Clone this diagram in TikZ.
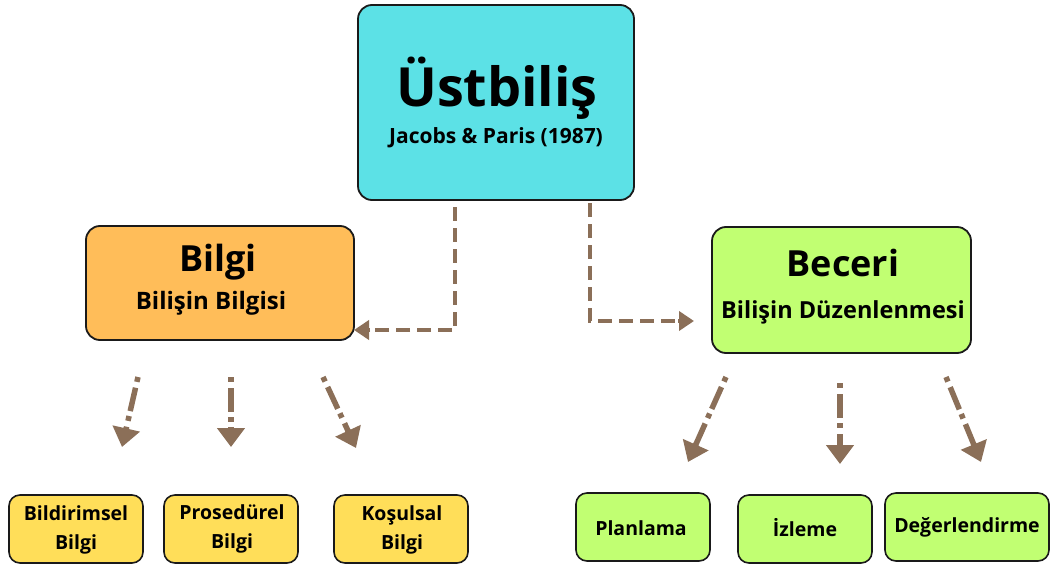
\documentclass[tikz,border=0pt]{standalone}
\usepackage{fontspec}
\setmainfont{Open Sans}
\usetikzlibrary{arrows.meta,calc}
\definecolor{cyanbox}{HTML}{5CE1E6}
\definecolor{orangebox}{HTML}{FFBD59}
\definecolor{greenbox}{HTML}{C1FF72}
\definecolor{yellowbox}{HTML}{FFDE59}
\definecolor{arrowbrown}{HTML}{8B6F58}
\definecolor{boxline}{HTML}{1A1A1A}
\begin{document}
\begin{tikzpicture}[x=1pt,y=-1pt,
  box/.style={draw=boxline,line width=1.8pt,rounded corners=14pt},
  smallbox/.style={draw=boxline,line width=1.6pt,rounded corners=11pt},
  conn/.style={draw=arrowbrown,line width=4pt,dash pattern=on 14pt off 7pt,shorten >=10pt},
  conntip/.style={draw=arrowbrown,fill=arrowbrown,line width=4pt,-{Triangle[width=19pt,length=15pt]}},
  subconn/.style={draw=arrowbrown,line width=5.5pt,dash pattern=on 5pt off 6pt on 24pt off 5pt,shorten >=16pt},
  subtip/.style={draw=arrowbrown,fill=arrowbrown,line width=5.5pt,-{Triangle[width=27pt,length=19pt]}},
  lbl/.style={align=center,inner sep=0pt},
  smalltxt/.style={lbl,font=\bfseries\fontsize{19.5}{29}\selectfont}]
\useasboundingbox (0,0) rectangle (1050,567);
% main boxes
\draw[box,fill=cyanbox] (358,5) rectangle (634,200);
\node[lbl,font=\bfseries\fontsize{54}{60}\selectfont] (ust) at (497,88) {Üstbiliş};
\node[lbl,font=\bfseries\fontsize{21}{24}\selectfont] (ustsub) at (496,138) {Jacobs \& Paris (1987)};
\draw[box,fill=orangebox] (86,226) rectangle (354,340);
\node[lbl,font=\bfseries\fontsize{36}{40}\selectfont] (bilgi) at (218,262) {Bilgi};
\node[lbl,font=\bfseries\fontsize{24}{28}\selectfont] (bilgisub) at (211,303) {Bilişin Bilgisi};
\draw[box,fill=greenbox] (712,227) rectangle (971,353);
\node[lbl,font=\bfseries\fontsize{36}{40}\selectfont] (beceri) at (843,263) {Beceri};
\node[lbl,font=\bfseries\fontsize{23.5}{28}\selectfont] (becerisub) at (843,312) {Bilişin Düzenlenmesi};
% small boxes
\draw[smallbox,fill=yellowbox] (9,495) rectangle (143,563);
\node[smalltxt] (bild) at (76,530) {Bildirimsel\\Bilgi};
\draw[smallbox,fill=yellowbox] (164,495) rectangle (298,563);
\node[smalltxt] (pros) at (232,529) {Prosedürel\\Bilgi};
\draw[smallbox,fill=yellowbox] (334,495) rectangle (468,563);
\node[smalltxt] (kos) at (402,530) {Koşulsal\\Bilgi};
\draw[smallbox,fill=greenbox] (576,493) rectangle (710,561);
\node[smalltxt] (plan) at (641,528) {Planlama};
\draw[smallbox,fill=greenbox] (738,495) rectangle (872,563);
\node[smalltxt] (izl) at (805,528) {İzleme};
\draw[smallbox,fill=greenbox] (885,493) rectangle (1049,561);
\node[smalltxt] (deg) at (967,527) {Değerlendirme};
% connector anchors
\coordinate (uL) at (455,207);
\coordinate (uR) at (590,203);
\coordinate (cL) at (455,330);
\coordinate (cR) at (590,321);
\coordinate (bilgiR) at (354,330);
\coordinate (beceriL) at (694,321);
\draw[conn] (uL) -- (cL) -- (bilgiR);
\draw[conntip] ($(bilgiR)!16pt!(cL)$) -- (bilgiR);
\draw[conn] (uR) -- (cR) -- (beceriL);
\draw[conntip] ($(beceriL)!16pt!(cR)$) -- (beceriL);
% small arrows
\coordinate (a1s) at (138,377); \coordinate (a1e) at (122,447);
\coordinate (a2s) at (231,377); \coordinate (a2e) at (231,447);
\coordinate (a3s) at (323,377); \coordinate (a3e) at (356,448);
\coordinate (b1s) at (726,377); \coordinate (b1e) at (688,462);
\coordinate (b2s) at (840,383); \coordinate (b2e) at (840,464);
\coordinate (b3s) at (946,377); \coordinate (b3e) at (981,462);
\foreach \s/\e in {a1s/a1e,a2s/a2e,a3s/a3e,b1s/b1e,b2s/b2e,b3s/b3e}{
  \draw[subconn] (\s) -- (\e);
  \draw[subtip] ($(\e)!20pt!(\s)$) -- (\e);
}
\end{tikzpicture}
\end{document}
